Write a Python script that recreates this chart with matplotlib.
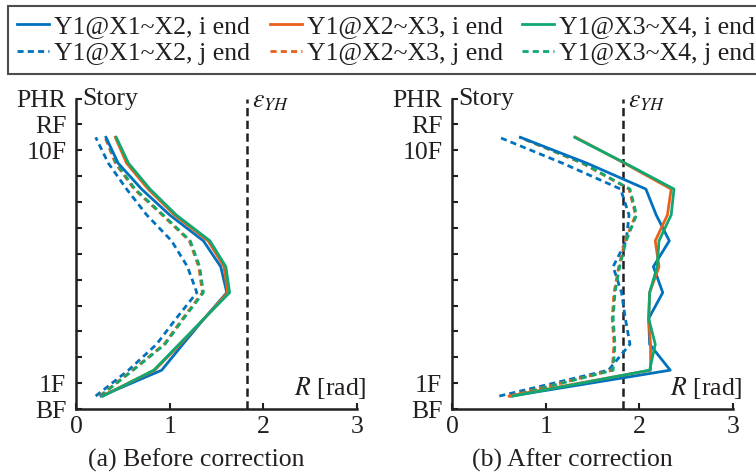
import matplotlib
matplotlib.use('Agg')
import matplotlib.pyplot as plt
import matplotlib.transforms as mtransforms

plt.rcParams['font.family'] = ['Liberation Serif', 'DejaVu Serif']
plt.rcParams['mathtext.fontset'] = 'stix'

INK = '#231f20'
BLUE = '#0072BD'
ORANGE = '#E8601C'
GREEN = '#10A870'

# story mid-heights: BF..10F  (0 = BF, 1 = 1F, ..., 10 = 10F, 11 = RF, 12 = PHR)
story = [0.5, 1.5, 2.5, 3.5, 4.5, 5.5, 6.5, 7.5, 8.5, 9.5, 10.5]
eps_yh = 1.83

# (a) before correction
a_x12_i = [0.27, 0.915, 1.14, 1.37, 1.61, 1.545, 1.36, 1.00, 0.70, 0.45, 0.32]
a_x23_i = [0.28, 0.84, 1.11, 1.37, 1.62, 1.58, 1.41, 1.05, 0.77, 0.54, 0.42]
a_x34_i = [0.29, 0.83, 1.10, 1.37, 1.64, 1.60, 1.43, 1.07, 0.79, 0.56, 0.43]
a_x12_j = [0.21, 0.56, 0.86, 1.07, 1.29, 1.19, 1.02, 0.755, 0.54, 0.345, 0.21]
a_x23_j = [0.25, 0.60, 0.94, 1.14, 1.35, 1.31, 1.21, 0.92, 0.62, 0.42, 0.31]
a_x34_j = [0.26, 0.61, 0.95, 1.15, 1.36, 1.32, 1.22, 0.93, 0.63, 0.43, 0.32]

# (b) after correction
b_x12_i = [0.63, 2.33, 2.11, 2.10, 2.25, 2.15, 2.32, 2.18, 2.07, 1.44, 0.73]
b_x23_i = [0.61, 2.12, 2.12, 2.10, 2.11, 2.21, 2.17, 2.30, 2.34, 1.84, 1.32]
b_x34_i = [0.65, 2.11, 2.17, 2.10, 2.11, 2.19, 2.21, 2.34, 2.37, 1.85, 1.31]
b_x12_j = [0.505, 1.67, 1.90, 1.85, 1.81, 1.72, 1.86, 1.89, 1.80, 1.18, 0.505]
b_x23_j = [0.61, 1.71, 1.73, 1.71, 1.73, 1.78, 1.85, 1.96, 1.89, 1.39, 0.72]
b_x34_j = [0.63, 1.72, 1.74, 1.72, 1.74, 1.79, 1.86, 1.97, 1.90, 1.40, 0.73]

labels_i = ['Y1@X1~X2, i end', 'Y1@X2~X3, i end', 'Y1@X3~X4, i end']
labels_j = ['Y1@X1~X2, j end', 'Y1@X2~X3, j end', 'Y1@X3~X4, j end']
colors = [BLUE, ORANGE, GREEN]

ytick_pos = list(range(13))
ytick_lab = ['BF', '1F', '', '', '', '', '', '', '', '', '10F', 'RF', 'PHR']
xtick_pos = [0, 1, 2, 3]

FS = 18.5
LW = 2.0
fig = plt.figure(figsize=(7.56, 4.76), dpi=100)
axa = fig.add_axes([76 / 756, 1 - 409 / 476, 281 / 756, 310.5 / 476])
axb = fig.add_axes([452 / 756, 1 - 409 / 476, 281 / 756, 310.5 / 476])

panels = [
    (axa, [a_x12_i, a_x23_i, a_x34_i], [a_x12_j, a_x23_j, a_x34_j], '(a) Before correction'),
    (axb, [b_x12_i, b_x23_i, b_x34_i], [b_x12_j, b_x23_j, b_x34_j], '(b) After correction'),
]

handles = []
for ax, sol, das, title in panels:
    ax.axvline(eps_yh, color=INK, lw=1.8, ls=(0, (3.3, 1.8)), zorder=1)
    hs = []
    for xs, c, lab in zip(sol, colors, labels_i):
        h, = ax.plot(xs, story, color=c, lw=LW, label=lab, zorder=3)
        hs.append(h)
    hd = []
    for xs, c, lab in zip(das, colors, labels_j):
        h, = ax.plot(xs, story, color=c, lw=LW, ls=(0, (2.2, 1.5)), label=lab, zorder=2)
        hd.append(h)
    handles = [hs[0], hd[0], hs[1], hd[1], hs[2], hd[2]]

    ax.set_xlim(0, 3)
    ax.set_ylim(0, 12)
    ax.set_xticks(xtick_pos)
    ax.set_yticks(ytick_pos)
    ax.set_yticklabels(ytick_lab)
    ax.tick_params(direction='in', length=4, width=1.5, labelsize=FS, colors=INK)
    ax.tick_params(axis='y', pad=7)
    ax.tick_params(axis='x', pad=5)
    for s in ['top', 'right']:
        ax.spines[s].set_visible(False)
    for s in ['left', 'bottom']:
        ax.spines[s].set_linewidth(1.8)
        ax.spines[s].set_color(INK)
    ax.patch.set_alpha(0)

    ax.text(0.07, 12, 'Story', fontsize=FS, color=INK, va='center', ha='left')
    ax.text(eps_yh + 0.05, 11.85, r'$\varepsilon_{YH}$', fontsize=FS, color=INK, va='center', ha='left')
    ax.text(3.1, 0.8, r'$R$ [rad]', fontsize=FS, color=INK, va='center', ha='right')
    trans = mtransforms.blended_transform_factory(ax.transData, fig.transFigure)
    ax.text(1.28, 1 - 460 / 476, title, fontsize=FS, color=INK, va='center', ha='center',
            transform=trans)

leg = fig.legend(handles=handles, loc='upper left', bbox_to_anchor=(8 / 756, 1 - 6 / 476),
                 ncol=3, fontsize=FS, frameon=True, fancybox=False, handlelength=1.25,
                 handletextpad=0.2, columnspacing=0.75, labelspacing=0.15, borderpad=0.35,
                 borderaxespad=0)
leg.get_frame().set_edgecolor(INK)
leg.get_frame().set_linewidth(1.5)
for t in leg.get_texts():
    t.set_color(INK)

fig.savefig('out.png', dpi=100)
